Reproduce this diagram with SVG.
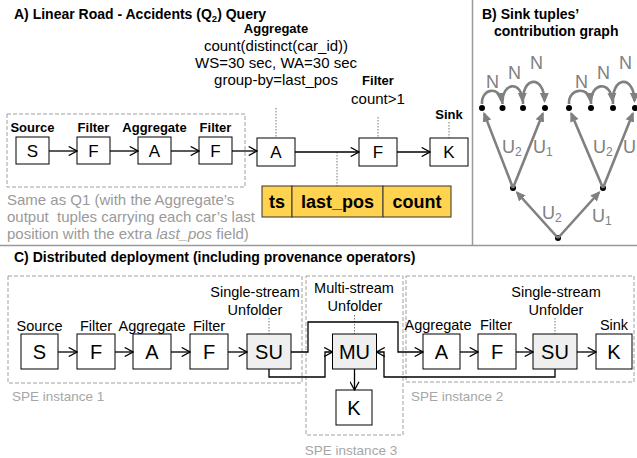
<svg xmlns="http://www.w3.org/2000/svg" width="637" height="458" viewBox="0 0 637 458">
<defs>
<style>
text{font-family:"Liberation Sans",Arial,sans-serif;fill:#000}
.t{font-weight:bold;font-size:14px}
.bl{font-weight:bold;font-size:13px;text-anchor:middle}
.rl{font-size:14.5px;text-anchor:middle}
.ra{font-size:15px;text-anchor:middle}
.box{fill:#fff;stroke:#000;stroke-width:1}
.ubox{fill:#efefef;stroke:#000;stroke-width:1}
.la{font-size:17px;text-anchor:middle}
.lc{font-size:20px;text-anchor:middle}
.gray{font-size:15px;fill:#9a9a9a}
.spe{font-size:13.5px;fill:#a6a6a6}
.dash{fill:none;stroke:#a0a0a0;stroke-width:1;stroke-dasharray:4 2}
.dot{stroke:#777;stroke-width:1;stroke-dasharray:1.5 1.5;fill:none}
.con{fill:none;stroke:#000;stroke-width:1.3;marker-end:url(#oa)}
.g{fill:none;stroke:#808080;stroke-width:2.6;marker-end:url(#ga)}
.gl{font-size:18px;fill:#808080}
.sep{stroke:#999;stroke-width:1.5}
.yb{fill:#ffd24f;stroke:#333;stroke-width:1}
.yt{font-weight:bold;font-size:18px;text-anchor:middle}
</style>
<marker id="oa" viewBox="0 0 10 10" refX="9.3" refY="5" markerWidth="10" markerHeight="10" markerUnits="userSpaceOnUse" orient="auto"><path d="M1,0.5 L9.3,5 L1,9.5" fill="none" stroke="#000" stroke-width="1.3"/></marker>
<marker id="ga" viewBox="0 0 10 10" refX="8" refY="5" markerWidth="10" markerHeight="10" markerUnits="userSpaceOnUse" orient="auto"><path d="M0,0.5 L10,5 L0,9.5 z" fill="#808080"/></marker>
</defs>

<g id="separators">
<line class="sep" x1="472.5" y1="0" x2="472.5" y2="245.5"/>
<line class="sep" x1="0" y1="245.5" x2="637" y2="245.5"/>
</g>

<!-- Section A -->
<text class="t" x="14" y="19">A) Linear Road - Accidents (Q<tspan font-size="9.5" dy="3">2</tspan><tspan dy="-3">) Query</tspan></text>
<rect id="a-group" class="dash" x="7" y="114" width="238" height="73"/>

<g id="a-source"><text class="bl" x="32.5" y="132">Source</text><rect class="box" x="16" y="137" width="33" height="27"/><text class="la" x="32.5" y="156.5">S</text></g>
<g id="a-filter1"><text class="bl" x="93.5" y="132">Filter</text><rect class="box" x="77" y="137" width="33" height="27"/><text class="la" x="93.5" y="156.5">F</text></g>
<g id="a-aggregate1"><text class="bl" x="154.5" y="132">Aggregate</text><rect class="box" x="138" y="137" width="33" height="27"/><text class="la" x="154.5" y="156.5">A</text></g>
<g id="a-filter2"><text class="bl" x="215.5" y="132">Filter</text><rect class="box" x="199" y="137" width="33" height="27"/><text class="la" x="215.5" y="156.5">F</text></g>

<g id="a-aggregate2">
<text class="bl" x="276" y="33">Aggregate</text>
<text class="ra" x="276" y="51">count(distinct(car_id))</text>
<text class="ra" x="276" y="68">WS=30 sec, WA=30 sec</text>
<text class="ra" x="276" y="85">group-by=last_pos</text>
<line class="dot" x1="276" y1="108" x2="276" y2="138"/>
<rect class="box" x="257" y="138" width="38" height="28"/><text class="la" x="276" y="158">A</text>
</g>
<g id="a-filter3">
<text class="bl" x="378" y="85">Filter</text>
<text class="ra" x="378" y="104">count&gt;1</text>
<line class="dot" x1="378" y1="117" x2="378" y2="138"/>
<rect class="box" x="359" y="138" width="38" height="28"/><text class="la" x="378" y="158">F</text>
</g>
<g id="a-sink">
<text class="bl" x="449" y="119">Sink</text>
<line class="dot" x1="449" y1="122" x2="449" y2="138"/>
<rect class="box" x="430" y="138" width="38" height="28"/><text class="la" x="449" y="158">K</text>
</g>

<g id="a-tuple">
<line class="dot" x1="337" y1="152" x2="337" y2="186"/>
<rect class="yb" x="262" y="186" width="30" height="31"/>
<rect class="yb" x="292" y="186" width="91" height="31"/>
<rect class="yb" x="383" y="186" width="68" height="31"/>
<text class="yt" x="277" y="208">ts</text>
<text class="yt" x="337.5" y="208">last_pos</text>
<text class="yt" x="417" y="208">count</text>
</g>

<g id="a-note">
<text class="gray" x="7" y="205">Same as Q1 (with the Aggregate’s</text>
<text class="gray" x="7" y="222" xml:space="preserve">output  tuples carrying each car’s last</text>
<text class="gray" x="7" y="239">position with the extra <tspan font-style="italic">last_pos</tspan> field)</text>
</g>

<g id="a-connectors">
<line class="con" x1="49" y1="151" x2="77" y2="151"/>
<line class="con" x1="110" y1="151" x2="138" y2="151"/>
<line class="con" x1="171" y1="151" x2="199" y2="151"/>
<line class="con" x1="232" y1="151" x2="257" y2="151"/>
<line class="con" x1="295" y1="152" x2="359" y2="152"/>
<line class="con" x1="397" y1="152" x2="430" y2="152"/>
</g>

<!-- Section B -->
<text class="t" x="482" y="18.5" font-size="14.5">B) Sink tuples’</text>
<text class="t" x="494" y="36" font-size="14.5">contribution graph</text>

<g id="b-nodes" fill="#000">
<circle cx="482" cy="108" r="3"/><circle cx="502.5" cy="108" r="3"/><circle cx="523" cy="108" r="3"/><circle cx="545" cy="108" r="3"/>
<circle cx="569" cy="108" r="3"/><circle cx="591" cy="108" r="3"/><circle cx="613" cy="108" r="3"/><circle cx="635" cy="108" r="3"/>
<circle cx="513" cy="188" r="3"/><circle cx="603" cy="188" r="3"/>
<circle cx="558" cy="238" r="3"/>
</g>
<g id="b-edges">
<path class="g" d="M513,188 L484.2,113.6"/>
<path class="g" d="M513,188 L542.8,113.6"/>
<path class="g" d="M558,238 L517,192.5"/>
<path class="g" d="M558,238 L599,192.5"/>
<path class="g" d="M603,188 L571.3,113.5"/>
<path class="g" d="M603,188 L632.8,113.6"/>
<path class="g" d="M482,104 C481,88 500,86 501.5,101"/>
<path class="g" d="M502.5,104 C501,82 522,80 522.5,101"/>
<path class="g" d="M523,104 C521,76 544,74 544.5,101"/>
<path class="g" d="M569,104 C568,88 589,86 590.5,101"/>
<path class="g" d="M591,104 C590,82 611,80 612.5,101"/>
<path class="g" d="M613,104 C611,76 634,74 634.5,101"/>
</g>
<g id="b-labels">
<text class="gl" x="486" y="88">N</text>
<text class="gl" x="508" y="79">N</text>
<text class="gl" x="530" y="69">N</text>
<text class="gl" x="575" y="88">N</text>
<text class="gl" x="597" y="79">N</text>
<text class="gl" x="619" y="69">N</text>
<text class="gl" x="502" y="153">U<tspan font-size="12" dy="3">2</tspan></text>
<text class="gl" x="533" y="153">U<tspan font-size="12" dy="3">1</tspan></text>
<text class="gl" x="593" y="153">U<tspan font-size="12" dy="3">2</tspan></text>
<text class="gl" x="623" y="153">U<tspan font-size="12" dy="3">1</tspan></text>
<text class="gl" x="542" y="219">U<tspan font-size="12" dy="3">2</tspan></text>
<text class="gl" x="592" y="222">U<tspan font-size="12" dy="3">1</tspan></text>
</g>

<!-- Section C -->
<text class="t" x="14" y="262">C) Distributed deployment (including provenance operators)</text>
<g id="spe1"><rect class="dash" x="8" y="276" width="294" height="107"/><text class="spe" x="12" y="401">SPE instance 1</text></g>
<g id="spe3"><rect class="dash" x="306" y="276" width="97" height="159"/><text class="spe" x="351" y="455" text-anchor="middle">SPE instance 3</text></g>
<g id="spe2"><rect class="dash" x="406" y="276" width="228" height="106"/><text class="spe" x="411" y="401">SPE instance 2</text></g>

<g id="c-source"><text class="rl" x="39.5" y="331">Source</text><rect class="box" x="21" y="334" width="37" height="35"/><text class="lc" x="39.5" y="358.7">S</text></g>
<g id="c-filter1"><text class="rl" x="96" y="331">Filter</text><rect class="box" x="77" y="334" width="38" height="35"/><text class="lc" x="96" y="358.7">F</text></g>
<g id="c-aggregate1"><text class="rl" x="152" y="331">Aggregate</text><rect class="box" x="133" y="334" width="38" height="35"/><text class="lc" x="152" y="358.7">A</text></g>
<g id="c-filter2"><text class="rl" x="209" y="331">Filter</text><rect class="box" x="190" y="334" width="38" height="35"/><text class="lc" x="209" y="358.7">F</text></g>
<g id="c-su1"><text class="rl" x="255" y="297">Single-stream</text><text class="rl" x="255" y="315">Unfolder</text><line class="dot" x1="269" y1="318" x2="269" y2="334"/><rect class="ubox" x="247" y="334" width="44" height="35"/><text class="lc" x="269" y="358.7">SU</text></g>
<g id="c-mu"><text class="rl" x="354" y="293">Multi-stream</text><text class="rl" x="355" y="311">Unfolder</text><line class="dot" x1="354.5" y1="315" x2="354.5" y2="334"/><rect class="ubox" x="332.5" y="334" width="44" height="35"/><text class="lc" x="354.5" y="358.7">MU</text></g>
<g id="c-sink3"><rect class="box" x="336" y="390" width="36" height="35"/><text class="lc" x="354" y="414.7">K</text></g>
<g id="c-aggregate2"><text class="rl" x="438" y="330">Aggregate</text><rect class="box" x="423" y="334" width="37" height="35"/><text class="lc" x="441.5" y="358.7">A</text></g>
<g id="c-filter3"><text class="rl" x="496" y="330">Filter</text><rect class="box" x="478" y="334" width="38" height="35"/><text class="lc" x="497" y="358.7">F</text></g>
<g id="c-su2"><text class="rl" x="556" y="297">Single-stream</text><text class="rl" x="556" y="315">Unfolder</text><line class="dot" x1="555" y1="318" x2="555" y2="334"/><rect class="ubox" x="533" y="334" width="44" height="35"/><text class="lc" x="555" y="358.7">SU</text></g>
<g id="c-sink2"><text class="rl" x="614" y="330">Sink</text><rect class="box" x="596" y="334" width="36" height="35"/><text class="lc" x="614" y="358.7">K</text></g>

<g id="c-connectors">
<line class="con" x1="58" y1="352" x2="77" y2="352"/>
<line class="con" x1="115" y1="352" x2="133" y2="352"/>
<line class="con" x1="171" y1="352" x2="190" y2="352"/>
<line class="con" x1="228" y1="352" x2="247" y2="352"/>
<path class="con" d="M291,352 H308 V322 H398 V352 H423"/>
<path class="con" d="M269,369 V377 H325 V352 H332.5"/>
<path class="con" d="M555,369 V377 H384 V352 H376.5"/>
<line class="con" x1="354.5" y1="369" x2="354.5" y2="390"/>
<line class="con" x1="460" y1="352" x2="478" y2="352"/>
<line class="con" x1="516" y1="352" x2="533" y2="352"/>
<line class="con" x1="577" y1="352" x2="596" y2="352"/>
</g>
</svg>
